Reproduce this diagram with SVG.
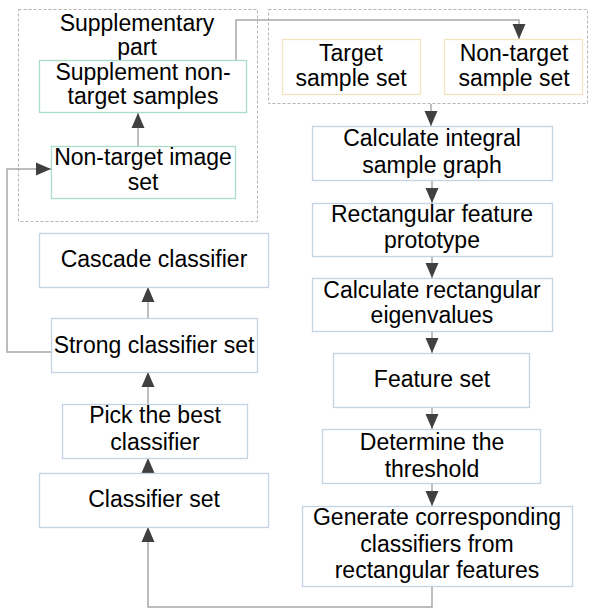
<svg xmlns="http://www.w3.org/2000/svg" width="590" height="609" viewBox="0 0 590 609">
<defs>
<marker id="ah" markerWidth="15" markerHeight="14" refX="15" refY="7" orient="auto" markerUnits="userSpaceOnUse">
<path d="M0,0.5 L15,7 L0,13.5 Z" fill="#404040"/>
</marker>
<style>
text{font-family:"Liberation Sans",Arial,sans-serif;font-size:23px;fill:#000;text-anchor:middle}
.b{fill:#fff;stroke:#c3d3e3;stroke-width:1.3}
.t{fill:#fff;stroke:#aadcc8;stroke-width:1.3}
.y{fill:#fff;stroke:#f3e4c0;stroke-width:1.3}
.d{fill:none;stroke:#b4b4b4;stroke-width:1;stroke-dasharray:3,2}
.c{fill:none;stroke:#a8a8a8;stroke-width:1.5}
</style>
</defs>
<rect width="590" height="609" fill="#fff"/>
<g id="supplementary">
<rect class="d" x="18.5" y="9.5" width="239" height="212"/>
<text x="137" y="31">Supplementary</text>
<text x="137" y="55">part</text>
</g>
<g id="sampleGroup">
<rect class="d" x="268.5" y="9.5" width="319" height="94"/>
</g>
<g id="connectors">
<path class="c" d="M236,60 V20 H519 V39" marker-end="url(#ah)"/>
<path class="c" d="M138,146 V113" marker-end="url(#ah)"/>
<path class="c" d="M51,352 H7 V169 H51" marker-end="url(#ah)"/>
<path class="c" d="M431,104 V126" marker-end="url(#ah)"/>
<path class="c" d="M432,180 V203" marker-end="url(#ah)"/>
<path class="c" d="M432,256 V278" marker-end="url(#ah)"/>
<path class="c" d="M432,331 V353" marker-end="url(#ah)"/>
<path class="c" d="M432,407 V429" marker-end="url(#ah)"/>
<path class="c" d="M432,483 V506" marker-end="url(#ah)"/>
<path class="c" d="M432,586 V607 H148 V527" marker-end="url(#ah)"/>
<path class="c" d="M148,473 V458" marker-end="url(#ah)"/>
<path class="c" d="M148,404 V372" marker-end="url(#ah)"/>
<path class="c" d="M148,318 V287" marker-end="url(#ah)"/>
</g>
<g id="supplementNonTarget">
<rect class="t" x="39.5" y="60.5" width="207" height="52"/>
<text x="143" y="80">Supplement non-</text>
<text x="143" y="104">target samples</text>
</g>
<g id="nonTargetImageSet">
<rect class="t" x="51.5" y="146.5" width="184" height="52"/>
<text x="143" y="165">Non-target image</text>
<text x="143" y="190">set</text>
</g>
<g id="targetSampleSet">
<rect class="y" x="282.5" y="39.5" width="138" height="55"/>
<text x="351" y="61">Target</text>
<text x="351" y="86">sample set</text>
</g>
<g id="nonTargetSampleSet">
<rect class="y" x="444.5" y="39.5" width="138" height="55"/>
<text x="514" y="61">Non-target</text>
<text x="514" y="86">sample set</text>
</g>
<g id="calcIntegral">
<rect class="b" x="312.5" y="126.5" width="240" height="54"/>
<text x="432" y="146">Calculate integral</text>
<text x="432" y="173">sample graph</text>
</g>
<g id="rectPrototype">
<rect class="b" x="312.5" y="203.5" width="240" height="53"/>
<text x="432" y="222">Rectangular feature</text>
<text x="432" y="248">prototype</text>
</g>
<g id="calcEigen">
<rect class="b" x="312.5" y="278.5" width="240" height="53"/>
<text x="432" y="298">Calculate rectangular</text>
<text x="432" y="323">eigenvalues</text>
</g>
<g id="featureSet">
<rect class="b" x="333.5" y="353.5" width="196" height="54"/>
<text x="432" y="387">Feature set</text>
</g>
<g id="threshold">
<rect class="b" x="322.5" y="429.5" width="218" height="54"/>
<text x="432" y="450">Determine the</text>
<text x="432" y="477">threshold</text>
</g>
<g id="generate">
<rect class="b" x="302.5" y="506.5" width="270" height="80"/>
<text x="437" y="525">Generate corresponding</text>
<text x="437" y="552">classifiers from</text>
<text x="437" y="578">rectangular features</text>
</g>
<g id="cascade">
<rect class="b" x="39.5" y="233.5" width="229" height="54"/>
<text x="154" y="267">Cascade classifier</text>
</g>
<g id="strong">
<rect class="b" x="51.5" y="318.5" width="206" height="54"/>
<text x="154" y="353">Strong classifier set</text>
</g>
<g id="pickBest">
<rect class="b" x="62.5" y="404.5" width="185" height="54"/>
<text x="155" y="423">Pick the best</text>
<text x="155" y="450">classifier</text>
</g>
<g id="classifierSet">
<rect class="b" x="39.5" y="473.5" width="229" height="54"/>
<text x="154" y="507">Classifier set</text>
</g>
</svg>
